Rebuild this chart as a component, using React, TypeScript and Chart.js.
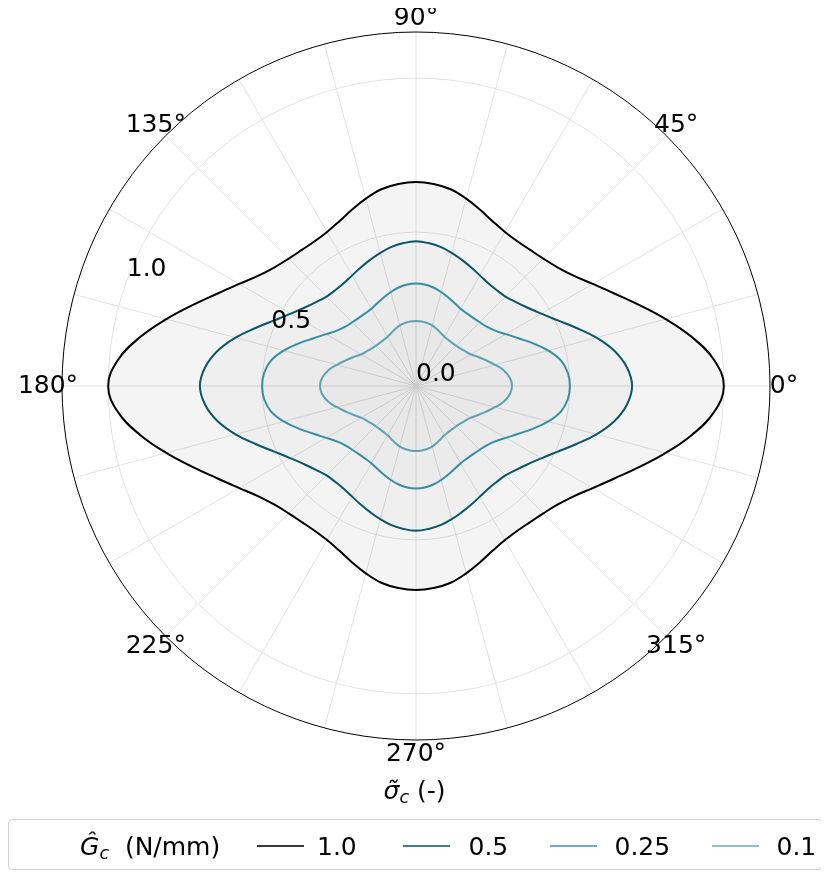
import React, { useEffect, useRef } from "react";
import { Chart, registerables } from "chart.js";

Chart.register(...registerables);

// polar angle of every sample (degrees, counter-clockwise from 0° at the right)
const THETA_DEG = [
  0, 5, 10, 15, 20, 25, 30, 35, 40, 45, 50, 55, 60, 65, 70, 75, 80, 85, 90,
  95, 100, 105, 110, 115, 120, 125, 130, 135, 140, 145, 150, 155, 160, 165, 170, 175, 180,
  185, 190, 195, 200, 205, 210, 215, 220, 225, 230, 235, 240, 245, 250, 255, 260, 265, 270,
  275, 280, 285, 290, 295, 300, 305, 310, 315, 320, 325, 330, 335, 340, 345, 350, 355,
];

// sigma_c values (radius) for each G_c
const G_1_0 = [
  1.0, 0.972, 0.911, 0.84, 0.771, 0.711, 0.663, 0.625, 0.6, 0.585, 0.577, 0.574, 0.578, 0.59, 0.609, 0.63, 0.649, 0.659, 0.663,
  0.659, 0.649, 0.63, 0.609, 0.59, 0.578, 0.574, 0.577, 0.585, 0.6, 0.625, 0.663, 0.711, 0.771, 0.84, 0.911, 0.972, 1.0,
  0.972, 0.911, 0.84, 0.771, 0.711, 0.663, 0.625, 0.6, 0.585, 0.577, 0.574, 0.578, 0.59, 0.609, 0.63, 0.649, 0.659, 0.663,
  0.659, 0.649, 0.63, 0.609, 0.59, 0.578, 0.574, 0.577, 0.585, 0.6, 0.625, 0.663, 0.711, 0.771, 0.84, 0.911, 0.972,
];
const G_0_5 = [
  0.702, 0.688, 0.655, 0.607, 0.553, 0.506, 0.47, 0.443, 0.424, 0.411, 0.407, 0.408, 0.415, 0.425, 0.436, 0.448, 0.459, 0.466, 0.47,
  0.466, 0.459, 0.448, 0.436, 0.425, 0.415, 0.408, 0.407, 0.411, 0.424, 0.443, 0.47, 0.506, 0.553, 0.607, 0.655, 0.688, 0.702,
  0.688, 0.655, 0.607, 0.553, 0.506, 0.47, 0.443, 0.424, 0.411, 0.407, 0.408, 0.415, 0.425, 0.436, 0.448, 0.459, 0.466, 0.47,
  0.466, 0.459, 0.448, 0.436, 0.425, 0.415, 0.408, 0.407, 0.411, 0.424, 0.443, 0.47, 0.506, 0.553, 0.607, 0.655, 0.688,
];
const G_0_25 = [
  0.5, 0.495, 0.478, 0.445, 0.405, 0.367, 0.337, 0.314, 0.3, 0.293, 0.289, 0.288, 0.29, 0.297, 0.306, 0.316, 0.325, 0.331, 0.333,
  0.331, 0.325, 0.316, 0.306, 0.297, 0.29, 0.288, 0.289, 0.293, 0.3, 0.314, 0.337, 0.367, 0.405, 0.445, 0.478, 0.495, 0.5,
  0.495, 0.478, 0.445, 0.405, 0.367, 0.337, 0.314, 0.3, 0.293, 0.289, 0.288, 0.29, 0.297, 0.306, 0.316, 0.325, 0.331, 0.333,
  0.331, 0.325, 0.316, 0.306, 0.297, 0.29, 0.288, 0.289, 0.293, 0.3, 0.314, 0.337, 0.367, 0.405, 0.445, 0.478, 0.495,
];
const G_0_1 = [
  0.312, 0.306, 0.29, 0.266, 0.243, 0.223, 0.206, 0.196, 0.189, 0.185, 0.183, 0.183, 0.185, 0.19, 0.197, 0.204, 0.208, 0.21, 0.211,
  0.21, 0.208, 0.204, 0.197, 0.19, 0.185, 0.183, 0.183, 0.185, 0.189, 0.196, 0.206, 0.223, 0.243, 0.266, 0.29, 0.306, 0.312,
  0.306, 0.29, 0.266, 0.243, 0.223, 0.206, 0.196, 0.189, 0.185, 0.183, 0.183, 0.185, 0.19, 0.197, 0.204, 0.208, 0.21, 0.211,
  0.21, 0.208, 0.204, 0.197, 0.19, 0.185, 0.183, 0.183, 0.185, 0.189, 0.196, 0.206, 0.223, 0.243, 0.266, 0.29, 0.306,
];

const SERIES_LABELS = ["1.0", "0.5", "0.25", "0.1"];
const SERIES_VALUES = [G_1_0, G_0_5, G_0_25, G_0_1];
const SERIES_COLORS = ["#000000", "#0a5a6c", "#3a98b0", "#68b2c4"];
const SERIES_FILLS = ["rgba(0,0,0,0.045)", "rgba(0,0,0,0.025)", "rgba(0,0,0,0.02)", "rgba(0,0,0,0.015)"];

const ANGLE_TICKS = [0, 45, 90, 135, 180, 225, 270, 315];
const ANGLE_TICK_LABELS = ["0°", "45°", "90°", "135°", "180°", "225°", "270°", "315°"];
const GRID_ANGLE_STEP = 15;
const R_TICKS = [0, 0.5, 1.0];
const R_TICK_LABELS = ["0.0", "0.5", "1.0"];
const R_MAX = 1.15;
const R_LABEL_ANGLE = 160;

const FONT = '25px "DejaVu Sans"';

const polarDecor = {
  id: "polarDecor",
  afterDraw(chart: any) {
    const s = chart.scales.r;
    const ctx = chart.ctx;
    const cx = s.xCenter;
    const cy = s.yCenter;
    const R = s.getDistanceFromCenterForValue(R_MAX);
    ctx.save();
    ctx.beginPath();
    ctx.arc(cx, cy, R, 0, Math.PI * 2);
    ctx.strokeStyle = "#000";
    ctx.lineWidth = 1;
    ctx.stroke();
    ctx.font = FONT;
    ctx.fillStyle = "#000";
    ctx.textAlign = "center";
    ctx.textBaseline = "middle";
    ANGLE_TICKS.forEach((a, i) => {
      const rad = (a * Math.PI) / 180;
      const d = R + 14;
      ctx.fillText(ANGLE_TICK_LABELS[i], cx + d * Math.cos(rad), cy - d * Math.sin(rad));
    });
    ctx.textAlign = "left";
    ctx.textBaseline = "alphabetic";
    const la = (R_LABEL_ANGLE * Math.PI) / 180;
    R_TICKS.forEach((v, i) => {
      const d = s.getDistanceFromCenterForValue(v);
      ctx.fillText(R_TICK_LABELS[i], cx + d * Math.cos(la), cy - d * Math.sin(la) - 5);
    });
    ctx.restore();
  },
};

export default function App() {
  const ref = useRef<HTMLCanvasElement | null>(null);

  useEffect(() => {
    if (!ref.current) return;
    const n = THETA_DEG.length;
    // radar goes clockwise from startAngle; map to counter-clockwise polar order
    const order = THETA_DEG.map((_, i) => (n - i) % n);
    const labels = order.map((k) => String(THETA_DEG[k]));
    const datasets = SERIES_VALUES.map((vals, si) => ({
      label: SERIES_LABELS[si],
      data: order.map((k) => vals[k]),
      borderColor: SERIES_COLORS[si],
      backgroundColor: SERIES_FILLS[si],
      borderWidth: 2,
      fill: "origin",
      tension: 0.4,
      pointRadius: 0,
      pointHoverRadius: 0,
      pointHitRadius: 0,
    }));
    const chart = new Chart(ref.current, {
      type: "radar",
      data: { labels, datasets },
      options: {
        responsive: false,
        animation: false,
        layout: { padding: { left: 54, top: 24, right: 51, bottom: 130 } },
        plugins: { legend: { display: false }, tooltip: { enabled: false } },
        scales: {
          r: {
            min: 0,
            max: R_MAX,
            startAngle: 90,
            ticks: { display: false, stepSize: 0.5, includeBounds: false },
            grid: { circular: true, color: "#e2e2e2", lineWidth: 1 },
            angleLines: {
              display: true,
              lineWidth: 1,
              color: (c: any) => (Number(c.label) % GRID_ANGLE_STEP === 0 ? "#e2e2e2" : "rgba(0,0,0,0)"),
            },
            pointLabels: { display: false },
          },
        },
      } as any,
      plugins: [polarDecor],
    });
    return () => chart.destroy();
  }, []);

  const swatchLeft = [248, 394, 541, 703];
  const textLeft = [308, 459.5, 605.5, 767.5];

  return (
    <div style={{ position: "relative", width: 813, height: 862, fontFamily: '"DejaVu Sans"', color: "#000" }}>
      <canvas ref={ref} width={813} height={862} style={{ position: "absolute", left: 0, top: 0 }} />
      <div
        style={{
          position: "absolute",
          left: 0,
          width: 813,
          top: 768,
          textAlign: "center",
          fontSize: 25,
          lineHeight: "30px",
          whiteSpace: "pre",
        }}
      >
        <i>{"\u03C3\u0303"}</i>
        <i style={{ fontSize: "0.7em", position: "relative", top: "0.25em" }}>c</i>
        {" (-)"}
      </div>
      <div
        style={{
          position: "absolute",
          left: 0,
          top: 811,
          width: 814,
          height: 51,
          border: "1px solid #d0d0d0",
          borderRadius: 4,
          boxSizing: "border-box",
          background: "#fff",
        }}
      >
        <div style={{ position: "absolute", left: 71, top: 11.5, fontSize: 25, lineHeight: "30px", whiteSpace: "pre" }}>
          <i>{"\u011C"}</i>
          <i style={{ fontSize: "0.7em", position: "relative", top: "0.25em" }}>c</i>
          {"  (N/mm)"}
        </div>
        {SERIES_LABELS.map((lab, i) => (
          <React.Fragment key={lab}>
            <div
              style={{
                position: "absolute",
                left: swatchLeft[i],
                top: 25,
                width: 47,
                height: 2,
                background: SERIES_COLORS[i],
                opacity: 0.78,
              }}
            />
            <div style={{ position: "absolute", left: textLeft[i], top: 11.5, fontSize: 25, lineHeight: "30px", whiteSpace: "pre" }}>
              {lab}
            </div>
          </React.Fragment>
        ))}
      </div>
    </div>
  );
}
